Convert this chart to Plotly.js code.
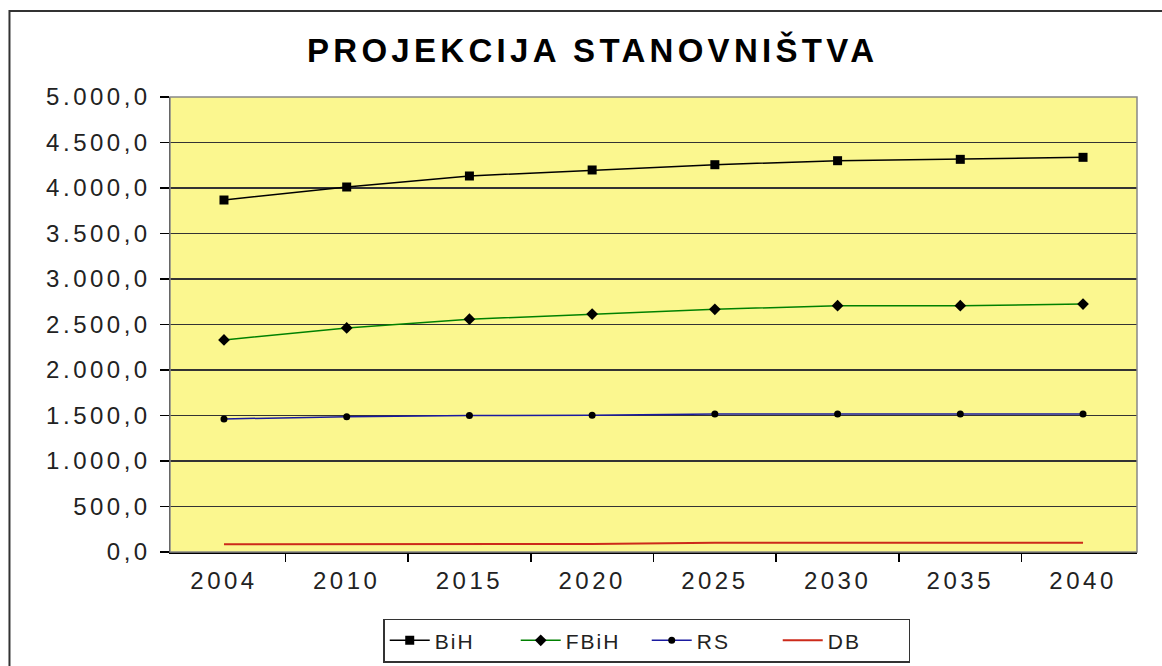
<!DOCTYPE html>
<html>
<head>
<meta charset="utf-8">
<script src="https://cdn.plot.ly/plotly-3.0.1.min.js"></script>
<style>
  html, body { margin: 0; padding: 0; background: #fff; }
  #chart { width: 1162px; height: 666px; }
  .gtitle { letter-spacing: 4.3px; }
  .xtick text, .ytick text { letter-spacing: 3.5px; }
  .legendtext { letter-spacing: 2px; }
</style>
</head>
<body>
<div id="chart"></div>
<script>
const years = ['2004', '2010', '2015', '2020', '2025', '2030', '2035', '2040'];
const bih  = [3868, 4011, 4132, 4198, 4256, 4300, 4315, 4337];
const fbih = [2330, 2462, 2558, 2615, 2667, 2707, 2707, 2725];
const rs   = [1462, 1487, 1500, 1502, 1516, 1516, 1516, 1516];
const db   = [85, 85, 85, 87, 102, 102, 102, 102];

const traces = [
  { name: 'BiH', x: years, y: bih, type: 'scatter', mode: 'lines+markers',
    line: { color: '#000000', width: 1.5 },
    marker: { symbol: 'square', size: 9, color: '#000000' } },
  { name: 'FBiH', x: years, y: fbih, type: 'scatter', mode: 'lines+markers',
    line: { color: '#008000', width: 1.5 },
    marker: { symbol: 'diamond', size: 9, color: '#000000' } },
  { name: 'RS', x: years, y: rs, type: 'scatter', mode: 'lines+markers',
    line: { color: '#1a1aa0', width: 1.5 },
    marker: { symbol: 'circle', size: 7, color: '#000000' } },
  { name: 'DB', x: years, y: db, type: 'scatter', mode: 'lines',
    line: { color: '#cc2a1a', width: 2 } }
];

const layout = {
  width: 1162, height: 666,
  margin: { l: 170, r: 25, t: 97, b: 114, autoexpand: false },
  paper_bgcolor: '#ffffff',
  plot_bgcolor: '#fbf78f',
  separators: ',.',
  font: { family: 'Liberation Sans, Arial, sans-serif', color: '#222' },
  title: {
    text: 'PROJEKCIJA STANOVNIŠTVA',
    font: { family: 'Liberation Sans, Arial, sans-serif', size: 33, color: '#000', weight: 'bold' },
    x: 0.51, xanchor: 'center', y: 0.925, yanchor: 'middle'
  },
  xaxis: {
    type: 'category',
    tickson: 'boundaries',
    ticks: 'outside', ticklen: 8, tickcolor: '#000', tickwidth: 1.5,
    ticklabelstandoff: 7,
    showline: true, linecolor: '#000', linewidth: 1.5,
    showgrid: false,
    tickfont: { size: 24, color: '#222' },
    fixedrange: true
  },
  yaxis: {
    range: [0, 5000], dtick: 500, tick0: 0,
    tickformat: ',.1f',
    ticks: 'outside', ticklen: 9, tickcolor: '#000', tickwidth: 1.5,
    ticklabelstandoff: 4,
    showline: true, linecolor: '#000', linewidth: 1.5,
    showgrid: true, gridcolor: '#333', gridwidth: 1.2,
    zeroline: false,
    tickfont: { size: 24, color: '#222' },
    fixedrange: true
  },
  showlegend: true,
  legend: {
    orientation: 'h',
    x: 0.493, xanchor: 'center',
    yref: 'container',
    y: 0.005, yanchor: 'bottom',
    bgcolor: '#ffffff',
    bordercolor: '#333', borderwidth: 1.5,
    font: { size: 21, color: '#222' },
    itemwidth: 40,
    entrywidth: 76,
    traceorder: 'normal'
  },
  shapes: [
    { type: 'rect', xref: 'paper', yref: 'paper', x0: 0, x1: 1, y0: 0, y1: 1,
      line: { color: '#888', width: 1.5 }, fillcolor: 'rgba(0,0,0,0)', layer: 'above' },
    { type: 'rect', xref: 'paper', yref: 'paper', x0: -0.166, x1: 1.06, y0: -0.3, y1: 1.189,
      line: { color: '#333', width: 2 }, fillcolor: 'rgba(0,0,0,0)', layer: 'below' }
  ]
};

Plotly.newPlot('chart', traces, layout, { displayModeBar: false, staticPlot: true });
</script>
</body>
</html>
